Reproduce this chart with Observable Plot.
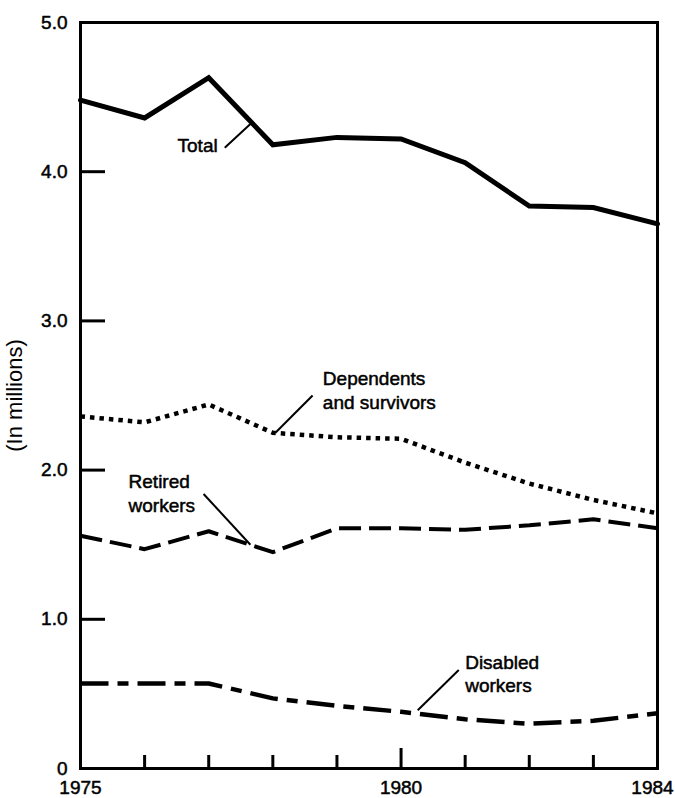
<!DOCTYPE html>
<html>
<head>
<meta charset="utf-8">
<script src="https://cdn.jsdelivr.net/npm/d3@7"></script>
<script src="https://cdn.jsdelivr.net/npm/@observablehq/plot@0.6"></script>
<style>
  html, body { margin: 0; padding: 0; background: #fff; }
  #chart { width: 675px; height: 798px; }
</style>
</head>
<body>
<div id="chart"></div>
<script>
// ---- Data ----
const years = [1975, 1976, 1977, 1978, 1979, 1980, 1981, 1982, 1983, 1984];
const total      = [4.48, 4.36, 4.63, 4.18, 4.23, 4.22, 4.06, 3.77, 3.76, 3.65];
const dependents = [2.36, 2.32, 2.44, 2.25, 2.22, 2.21, 2.05, 1.91, 1.80, 1.71];
const retired    = [1.56, 1.47, 1.59, 1.45, 1.61, 1.61, 1.60, 1.63, 1.67, 1.61];
const disabled   = [0.57, 0.57, 0.57, 0.47, 0.42, 0.38, 0.33, 0.30, 0.32, 0.37];

const yTickValues = [0, 1, 2, 3, 4, 5];
const yTickLabels = ["0", "1.0", "2.0", "3.0", "4.0", "5.0"];
const xMinorTicks = [1976, 1977, 1978, 1979, 1981, 1982, 1983];
const xMajorTicks = [1980];
const xLabelYears = [1975, 1980];
const xLabelEnd = [1984];

// annotation labels (anchored in data units)
const labelTexts = ["Total", "Dependents\nand survivors", "Retired\nworkers", "Disabled\nworkers"];
const labelYears = [1977.14, 1978.78, 1975.75, 1981.0];
const labelValues = [4.17, 2.54, 1.85, 0.64];
const leaderFrom = [[1977.25, 4.16], [1978.62, 2.50], [1976.92, 1.84], [1980.90, 0.66]];
const leaderTo   = [[1977.65, 4.32], [1978.04, 2.25], [1977.65, 1.50], [1980.26, 0.39]];

// ---- Build tables ----
const mk = (arr) => years.map((year, i) => ({year, value: arr[i]}));
const labels = labelTexts.map((text, i) => ({text, x: labelYears[i], y: labelValues[i]}));
const leaders = leaderFrom.map((f, i) => ({x1: f[0], y1: f[1], x2: leaderTo[i][0], y2: leaderTo[i][1]}));

const font = "'Liberation Sans', Arial, Helvetica, sans-serif";
const heavy = {textStroke: "black", textStrokeWidth: 0.5, textStrokeOpacity: 1};

const chart = Plot.plot({
  width: 675,
  height: 798,
  marginLeft: 80,
  marginRight: 18,
  marginTop: 22,
  marginBottom: 30,
  style: {fontFamily: font, fontSize: "19px", color: "black", background: "white"},
  x: {domain: [1975, 1984]},
  y: {domain: [0, 5]},
  marks: [
    // inward ticks
    Plot.axisY({ticks: [1, 2, 3, 4], tickSize: -25, strokeWidth: 3, fill: "none", stroke: "black"}),
    Plot.axisX({ticks: xMinorTicks, tickSize: -13, strokeWidth: 3, fill: "none", stroke: "black"}),
    Plot.axisX({ticks: xMajorTicks, tickSize: -20, strokeWidth: 3, fill: "none", stroke: "black"}),
    // tick labels
    Plot.axisY({ticks: yTickValues, tickSize: 0, tickPadding: 13, tickFormat: (d) => yTickLabels[yTickValues.indexOf(d)], label: null, fontSize: 19, ...heavy}),
    Plot.axisY({ticks: [], tickSize: 0, label: "(In millions)", labelAnchor: "center", labelArrow: "none", labelOffset: 74, fontSize: 22, ...heavy}),
    Plot.axisX({ticks: xLabelYears, tickSize: 0, tickPadding: 12, tickFormat: (d) => String(d), label: null, fontSize: 19, ...heavy}),
    Plot.axisX({ticks: xLabelEnd, tickSize: 0, tickPadding: 12, tickFormat: (d) => String(d), label: null, fontSize: 19, dx: -5, ...heavy}),
    // series
    Plot.line(mk(total), {x: "year", y: "value", stroke: "black", strokeWidth: 5, strokeLinejoin: "miter", strokeMiterlimit: 4}),
    Plot.line(mk(dependents), {x: "year", y: "value", stroke: "black", strokeWidth: 4.5, strokeDasharray: "4.5,5", strokeLinecap: "butt"}),
    Plot.line(mk(retired), {x: "year", y: "value", stroke: "black", strokeWidth: 4, strokeDasharray: "22,8", strokeLinecap: "butt"}),
    Plot.line(mk(disabled), {x: "year", y: "value", stroke: "black", strokeWidth: 4.5, strokeDasharray: "28,9,11,9", strokeLinecap: "butt"}),
    // annotations
    Plot.link(leaders, {x1: "x1", y1: "y1", x2: "x2", y2: "y2", stroke: "black", strokeWidth: 2}),
    Plot.text(labels.slice(0, 1), {x: "x", y: "y", text: "text", textAnchor: "end", fontSize: 19, fill: "black", stroke: "black", strokeWidth: 0.5}),
    Plot.text(labels.slice(1), {x: "x", y: "y", text: "text", textAnchor: "start", fontSize: 19, lineHeight: 1.25, fill: "black", stroke: "black", strokeWidth: 0.5}),
    // frame
    Plot.frame({stroke: "black", strokeWidth: 3})
  ]
});
document.getElementById("chart").appendChild(chart);
</script>
</body>
</html>
